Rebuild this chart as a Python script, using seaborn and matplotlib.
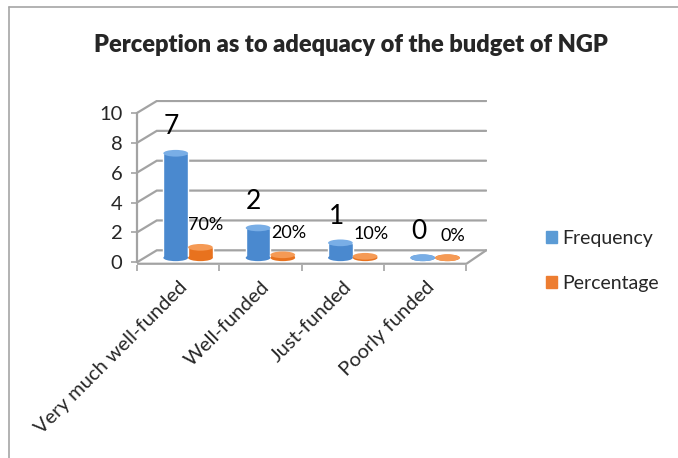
import matplotlib
matplotlib.use("Agg")
import matplotlib.pyplot as plt
from matplotlib.lines import Line2D
from matplotlib.patches import Ellipse
import seaborn as sns
import pandas as pd

# data
categories = ["Very much well-funded", "Well-funded", "Just-funded", "Poorly funded"]
frequency = [7, 2, 1, 0]
percentage = [0.7, 0.2, 0.1, 0.0]
pct_labels = ["70%", "20%", "10%", "0%"]
series = ["Frequency", "Percentage"]
yticks = [0, 2, 4, 6, 8, 10]

df = pd.DataFrame({
    "category": categories * 2,
    "series": [series[0]] * 4 + [series[1]] * 4,
    "value": frequency + percentage,
})

sns.set_theme(style="white")
plt.rcParams["font.family"] = ["Lato", "DejaVu Sans"]

blue = "#4A89CF"
blue_top = "#79AEE6"
orange = "#E8721E"
orange_top = "#F59A55"

fig = plt.figure(figsize=(6.78, 4.58), dpi=100)
ax = fig.add_axes([137 / 678, 1 - 264.5 / 458, (487 - 137) / 678, (264.5 - 99.5) / 458])

sns.barplot(data=df, x="category", y="value", hue="series", order=categories,
            hue_order=series, palette=[blue, orange], width=0.6, saturation=1,
            legend=False, ax=ax)

ax.set_xlim(-0.5, 3.75)
ax.set_ylim(-0.15, 10.9)

# fake 3d back wall and floor
dx, dy = 0.24, 0.8
grid = "#A3A3A3"
for t in yticks:
    ax.plot([-0.5, -0.5 + dx, 3.5 + dx], [t, t + dy, t + dy], color=grid, lw=1.6, zorder=0,
            solid_joinstyle="miter")
ax.plot([-0.5, 3.5, 3.5 + dx], [-0.1, -0.1, dy], color=grid, lw=1.6, zorder=0)

# bars stand at mid depth, with cylinder caps
for cont, top in zip(ax.containers, [blue_top, orange_top]):
    for p in cont:
        p.set_x(p.get_x() + dx / 2)
        p.set_y(p.get_y() + dy / 2 - 0.1)
        cx = p.get_x() + p.get_width() / 2
        w = p.get_width()
        y0 = p.get_y()
        ax.add_patch(Ellipse((cx, y0), w, 0.45, facecolor=p.get_facecolor(), edgecolor="none", zorder=2))
        ax.add_patch(Ellipse((cx, y0 + p.get_height()), w, 0.45, facecolor=top, edgecolor="none", zorder=3))

# data labels
for p, v in zip(ax.containers[0], frequency):
    ax.annotate(str(v), (p.get_x() + p.get_width() / 2, p.get_y() + p.get_height()), xytext=(-3, 19),
                textcoords="offset points", ha="center", va="center", fontsize=19, color="black")
for p, lab in zip(ax.containers[1], pct_labels):
    ax.annotate(lab, (p.get_x() + p.get_width() / 2, p.get_y() + p.get_height()), xytext=(4, 16),
                textcoords="offset points", ha="center", va="center", fontsize=13, color="black")

for s in ["top", "right", "bottom"]:
    ax.spines[s].set_visible(False)
ax.spines["left"].set_bounds(0, 10)
ax.spines["left"].set_color(grid)
ax.spines["left"].set_linewidth(1.6)

ax.set_yticks(yticks)
ax.set_yticklabels([str(t) for t in yticks], fontsize=14.5)
ax.tick_params(axis="y", length=4.5, width=1.2, color=grid, pad=6, left=True)

ax.set_xticks(range(len(categories)))
ax.set_xticklabels(categories, rotation=45, ha="right", rotation_mode="anchor", fontsize=14.5)
ax.set_xticks([i - 0.5 for i in range(len(categories) + 1)], minor=True)
ax.tick_params(axis="x", which="major", length=0, pad=10)
ax.tick_params(axis="x", which="minor", length=4.5, width=1.2, color=grid, bottom=True)
ax.set_xlabel("")
ax.set_ylabel("")

fig.text(351 / 678, 1 - 45 / 458, "Perception as to adequacy of the budget of NGP",
         ha="center", va="center", fontsize=17, fontweight="heavy")

handles = [plt.Rectangle((0, 0), 1, 1, color="#5B9BD5"), plt.Rectangle((0, 0), 1, 1, color="#ED7D31")]
fig.legend(handles, series, loc="upper left", bbox_to_anchor=(546 / 678, 1 - 230 / 458),
           frameon=False, fontsize=14, handlelength=0.55, handleheight=0.55,
           handletextpad=0.3, labelspacing=1.45, borderpad=0, borderaxespad=0)

# chart area border
fig.add_artist(Line2D([8.5 / 678, 8.5 / 678], [0, 1 - 7 / 458], color="#A6A6A6", lw=1.2))
fig.add_artist(Line2D([8.5 / 678, 1], [1 - 7 / 458, 1 - 7 / 458], color="#A6A6A6", lw=1.2))

fig.savefig("out.png", dpi=100)
